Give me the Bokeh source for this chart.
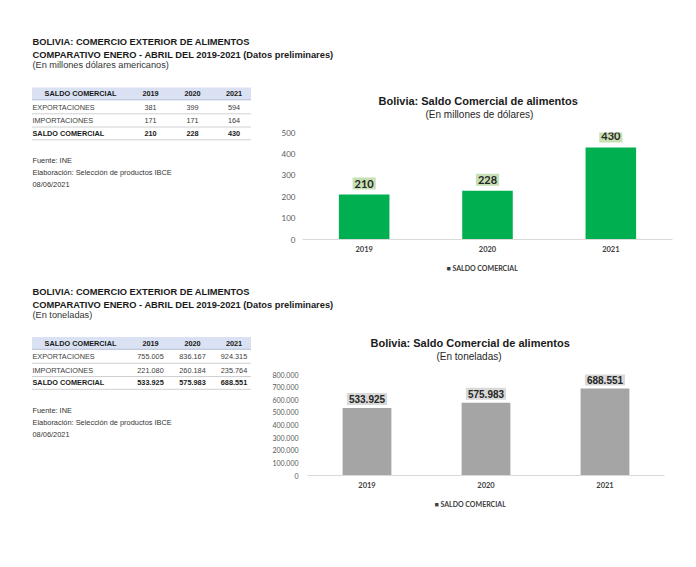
from bokeh.plotting import figure
from bokeh.layouts import column, row
from bokeh.models import (Range1d, FactorRange, FixedTicker, CustomJSTickFormatter,
                          Title, ColumnDataSource)
from bokeh.core.properties import value
from bokeh.embed import file_html
from bokeh.resources import INLINE

# ---------------- data ----------------
years = ["2019", "2020", "2021"]
row_labels = ["EXPORTACIONES", "IMPORTACIONES", "SALDO COMERCIAL"]
header_label = "SALDO COMERCIAL"

usd_exportaciones = [381, 399, 594]
usd_importaciones = [171, 171, 164]
usd_saldo = [210, 228, 430]

ton_exportaciones = [755005, 836167, 924315]
ton_importaciones = [221080, 260184, 235764]
ton_saldo = [533925, 575983, 688551]

usd_ticks = [0, 100, 200, 300, 400, 500]
ton_ticks = [0, 100000, 200000, 300000, 400000, 500000, 600000, 700000, 800000]

title_line1 = "BOLIVIA: COMERCIO EXTERIOR DE ALIMENTOS"
title_line2 = "COMPARATIVO ENERO - ABRIL DEL 2019-2021 (Datos preliminares)"
usd_unit = "(En millones dólares americanos)"
ton_unit = "(En toneladas)"
chart_title = "Bolivia: Saldo Comercial de alimentos"
usd_chart_sub = "(En millones de dólares)"
ton_chart_sub = "(En toneladas)"
legend_label = "SALDO COMERCIAL"
notes = ["Fuente: INE", "Elaboración: Selección de productos IBCE", "08/06/2021"]

ARIAL_NAME = "Liberation Sans"
ARIAL = value(ARIAL_NAME)
CALIBRI = "Lato"
W = 696
LEFT_W = 262


def fmt_dot(v):
    return f"{v:,}".replace(",", ".")


def canvas(w, y0, y1):
    p = figure(width=w, height=y1 - y0, x_range=Range1d(0, w), y_range=Range1d(y1, y0),
               output_backend="svg", toolbar_location=None, min_border=0,
               x_axis_location=None, y_axis_location=None, title=None, frame_align=False)
    p.grid.visible = False
    p.outline_line_color = None
    return p


def header(y0, y1, ys, unit):
    p = canvas(W, y0, y1)
    p.text(x=[32, 32], y=ys[:2], text=[title_line1, title_line2], text_font=ARIAL,
           text_font_style="bold", text_font_size="9.3px", text_color="#1a1a1a",
           text_baseline="middle", text_align="left")
    p.text(x=[32], y=[ys[2]], text=[unit], text_font=ARIAL, text_font_size="9.2px",
           text_color="#333333", text_baseline="middle", text_align="left")
    return p


def table(y0, y1, top, exp, imp, sal, fmt):
    p = canvas(LEFT_W, y0, y1)
    hy = top + 6.3
    rows_y = [top + 19.7, top + 33.2, top + 45.9]
    p.quad(left=[31.5], right=[250.5], top=[top], bottom=[top + 12.3],
           fill_color="#d9e1f2", line_color=None)
    p.segment(x0=[31.5], x1=[250.5], y0=[top + 12.3], y1=[top + 12.3],
              line_color="#b4c0d8", line_width=1)
    sep = [top + 26.3, top + 39.5, top + 52.3]
    p.segment(x0=[31.5] * 3, x1=[250.5] * 3, y0=sep, y1=sep,
              line_color="#d0d0d0", line_width=1)
    cols = [150, 192, 233.5]
    p.text(x=[80], y=[hy], text=[header_label], text_font=ARIAL, text_font_style="bold",
           text_font_size="7.3px", text_color="#1a1a1a", text_align="center",
           text_baseline="middle")
    p.text(x=cols, y=[hy] * 3, text=years, text_font=ARIAL, text_font_style="bold",
           text_font_size="7.3px", text_color="#1a1a1a", text_align="center",
           text_baseline="middle")
    p.text(x=[32, 32], y=rows_y[:2], text=row_labels[:2], text_font=ARIAL,
           text_font_size="7.3px", text_color="#404040", text_align="left",
           text_baseline="middle")
    p.text(x=[32], y=[rows_y[2]], text=[row_labels[2]], text_font=ARIAL,
           text_font_style="bold", text_font_size="7.3px", text_color="#1a1a1a",
           text_align="left", text_baseline="middle")
    p.text(x=cols, y=[rows_y[0]] * 3, text=[fmt(v) for v in exp], text_font=ARIAL,
           text_font_size="7.3px", text_color="#404040", text_align="center",
           text_baseline="middle")
    p.text(x=cols, y=[rows_y[1]] * 3, text=[fmt(v) for v in imp], text_font=ARIAL,
           text_font_size="7.3px", text_color="#404040", text_align="center",
           text_baseline="middle")
    p.text(x=cols, y=[rows_y[2]] * 3, text=[fmt(v) for v in sal], text_font=ARIAL,
           text_font_style="bold", text_font_size="7.3px", text_color="#1a1a1a",
           text_align="center", text_baseline="middle")
    ny = [top + 73, top + 85.3, top + 97]
    p.text(x=[32] * 3, y=ny, text=notes, text_font=ARIAL, text_font_size="7.4px",
           text_color="#333333", text_align="left", text_baseline="middle")
    return p


def chart(height, borders, yr, ticks, vals, bar_color, lab_bg, sub, tick_fmt,
          lab_font, lab_size, offs, ystand, lab_off, leg_color):
    bl, br, bt, bb = borders
    title_off, sub_off, leg_off = offs
    p = figure(width=W - LEFT_W, height=height, x_range=FactorRange(*years, range_padding=0),
               y_range=Range1d(0, yr), output_backend="svg", toolbar_location=None,
               title=None, frame_align=False, min_border_left=bl, min_border_right=br,
               min_border_top=bt, min_border_bottom=bb)
    p.grid.visible = False
    p.outline_line_color = None
    src = ColumnDataSource(dict(x=years, top=vals, lab=[tick_fmt(v) for v in vals]))
    p.vbar(x="x", top="top", width=0.41, fill_color=bar_color, line_color=None, source=src)
    p.text(x="x", y="top", text="lab", source=src, y_offset=lab_off,
           text_align="center", text_baseline="middle", text_font=value(lab_font),
           text_font_style="bold", text_font_size=lab_size, text_color="#262626",
           background_fill_color=lab_bg, padding=2)
    p.yaxis.ticker = FixedTicker(ticks=ticks)
    p.yaxis.formatter = CustomJSTickFormatter(
        code="return Math.round(tick).toString().replace(/\\B(?=(\\d{3})+(?!\\d))/g, '.');")
    p.yaxis.axis_line_color = None
    p.yaxis.major_tick_line_color = None
    p.yaxis.minor_tick_line_color = None
    p.yaxis.major_tick_out = 0
    p.yaxis.major_tick_in = 0
    p.yaxis.minor_tick_out = 0
    p.yaxis.major_label_standoff = ystand
    p.yaxis.major_label_text_font = CALIBRI
    p.yaxis.major_label_text_font_size = "8px" if yr < 1000 else "7px"
    p.yaxis.major_label_text_color = "#595959"
    p.xaxis.axis_line_color = "#d9d9d9"
    p.xaxis.major_tick_line_color = None
    p.xaxis.minor_tick_line_color = None
    p.xaxis.major_tick_out = 0
    p.xaxis.major_tick_in = 0
    p.xaxis.minor_tick_out = 0
    p.xaxis.major_label_standoff = 6
    p.xaxis.major_label_text_font = CALIBRI
    p.xaxis.major_label_text_font_style = "bold"
    p.xaxis.major_label_text_font_size = "7.5px"
    p.xaxis.major_label_text_color = "#404040"
    # spacer between the plot area and the subtitle
    p.add_layout(Title(text=" ", align="left", text_font=ARIAL_NAME, text_font_size="8px",
                       standoff=2), "above")
    p.add_layout(Title(text=sub, align="left", text_font=ARIAL_NAME, text_font_size="10px",
                       text_font_style="normal", text_color="#262626", standoff=0,
                       offset=sub_off), "above")
    p.add_layout(Title(text=chart_title, align="left", text_font=ARIAL_NAME,
                       text_font_size="11px", text_font_style="bold", text_color="#1a1a1a",
                       standoff=0, offset=title_off), "above")
    p.add_layout(Title(text="\u25a0 " + legend_label, align="left", text_font=CALIBRI,
                       text_font_size="7px", text_font_style="bold", text_color=leg_color,
                       standoff=15, offset=leg_off), "below")
    return p


h1 = header(0, 78, [41.7, 54, 64.5], usd_unit)
t1 = table(78, 280, 87, usd_exportaciones, usd_importaciones, usd_saldo, str)
c1 = chart(202, (40, 24, 54, 41), 500, usd_ticks, usd_saldo, "#00b050", "#c6e0b4",
           usd_chart_sub, str, CALIBRI, "11px", (76, 123, 144), 7, -11, "#3a3a3a")

h2 = header(280, 330, [291.7, 304.3, 314.5], ton_unit)
t2 = table(330, 567, 336.5, ton_exportaciones, ton_importaciones, ton_saldo, fmt_dot)
c2 = chart(237, (45, 32, 44, 92), 800000, ton_ticks, ton_saldo, "#a5a5a5", "#d9d9d9",
           ton_chart_sub, fmt_dot, "Liberation Sans", "10px", (63, 129, 127), 9, -9,
           "#404040")

layout = column(h1, row(t1, c1), h2, row(t2, c2))
open("out.html", "w").write(file_html(layout, INLINE))
